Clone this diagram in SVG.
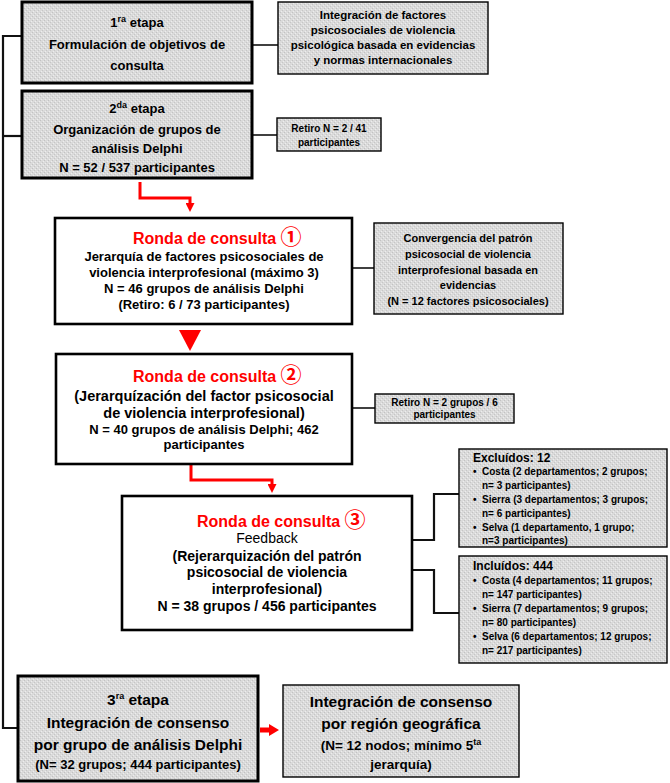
<svg xmlns="http://www.w3.org/2000/svg" width="670" height="783" viewBox="0 0 670 783">
<defs>
<pattern id="tex" width="4" height="4" patternUnits="userSpaceOnUse">
<rect width="4" height="4" fill="#dadada"/>
<rect x="0" y="0" width="1" height="1" fill="#c2c2c2"/>
<rect x="2" y="2" width="1" height="1" fill="#c6c6c6"/>
<rect x="1" y="3" width="1" height="1" fill="#ededed"/>
<rect x="3" y="1" width="1" height="1" fill="#ededed"/>
</pattern>
<marker id="ah" viewBox="0 0 10 10" refX="0" refY="5" markerUnits="userSpaceOnUse" markerWidth="10" markerHeight="9" orient="auto">
<path d="M0,0 L10,5 L0,10 z" fill="#ff0000"/>
</marker>
<style>
text{font-family:"Liberation Sans",Arial,sans-serif;font-weight:bold;fill:#000;text-anchor:middle}
.stage{fill:url(#tex);stroke:#000;stroke-width:3}
.side{fill:url(#tex);stroke:#000;stroke-width:1.4}
.ronda{fill:#fff;stroke:#000;stroke-width:2.6}
.t13{font-size:13px}
.t14{font-size:14px}
.t145{font-size:14.5px}
.t155{font-size:15.5px}
.t135{font-size:13.5px}
.s115{font-size:11.5px}
.s11{font-size:11px}
.s10{font-size:10px}
.s12{font-size:12px}
.left{text-anchor:start}
.red{fill:#ff0000;font-size:16px;text-anchor:start}
.circ{font-family:"Noto Sans CJK JP","DejaVu Sans",sans-serif;font-size:21px;font-weight:bold}
.reg{font-weight:normal}
.sup{font-size:9px}
.ln{fill:none;stroke:#000;stroke-width:1.5}
.lnk{fill:none;stroke:#111;stroke-width:2.2}
.rl{fill:none;stroke:#ff0000;stroke-width:3}
</style>
</defs>

<g id="connectors">
<path class="lnk" d="M22,36 H3 V728 H18"/>
<path class="lnk" d="M3,136 H22"/>
<path class="ln" d="M252,45 H278"/>
<path class="ln" d="M252,135 H277"/>
<path class="ln" d="M352,268 H374"/>
<path class="ln" d="M352,408 H375"/>
<path class="lnk" d="M412,540 H434 V494 H459"/>
<path class="lnk" d="M412,570 H434 V613 H459"/>
<path class="rl" d="M140,182 V198 H190 V203" marker-end="url(#ah)"/>
<polygon points="179,330 201,330 190,351" fill="#ff0000"/>
<path class="rl" d="M191,465 V480 H272 V484" marker-end="url(#ah)"/>
<polygon points="260,727.5 269,727.5 269,724 279,730 269,736 269,732.5 260,732.5" fill="#ff0000"/>
</g>

<g id="etapa1">
<rect class="stage" x="22" y="2" width="230" height="81"/>
<text class="t13" x="137" y="27">1<tspan class="sup" dy="-5">ra</tspan><tspan dy="5"> etapa</tspan></text>
<text class="t13" x="137" y="49">Formulación de objetivos de</text>
<text class="t13" x="137" y="70">consulta</text>
</g>

<g id="integracion-factores">
<rect class="side" x="278" y="2" width="210" height="72"/>
<text class="s115" x="383" y="19">Integración de factores</text>
<text class="s115" x="383" y="34">psicosociales de violencia</text>
<text class="s115" x="383" y="49">psicológica basada en evidencias</text>
<text class="s115" x="383" y="64">y normas internacionales</text>
</g>

<g id="etapa2">
<rect class="stage" x="22" y="91" width="230" height="87"/>
<text class="t13" x="137" y="113">2<tspan class="sup" dy="-5">da</tspan><tspan dy="5"> etapa</tspan></text>
<text class="t13" x="137" y="134">Organización de grupos de</text>
<text class="t13" x="137" y="153">análisis Delphi</text>
<text class="t13" x="137" y="172">N = 52 / 537 participantes</text>
</g>

<g id="retiro1">
<rect class="side" x="277" y="118" width="104" height="33"/>
<text class="s10" x="329" y="132">Retiro N = 2 / 41</text>
<text class="s10" x="329" y="146">participantes</text>
</g>

<g id="ronda1">
<rect class="ronda" x="55" y="218" width="297" height="106"/>
<text class="red" x="133" y="244">Ronda de consulta <tspan class="circ">①</tspan></text>
<text class="t13" x="204" y="261">Jerarquía de factores psicosociales de</text>
<text class="t13" x="204" y="277">violencia interprofesional (máximo 3)</text>
<text class="t13" x="204" y="293">N = 46 grupos de análisis Delphi</text>
<text class="t13" x="204" y="309">(Retiro: 6 / 73 participantes)</text>
</g>

<g id="convergencia">
<rect class="side" x="374" y="223" width="189" height="91"/>
<text class="s11" x="468" y="242">Convergencia del patrón</text>
<text class="s11" x="468" y="258">psicosocial de violencia</text>
<text class="s11" x="468" y="274">interprofesional basada en</text>
<text class="s11" x="468" y="289">evidencias</text>
<text class="s11" x="468" y="305">(N = 12 factores psicosociales)</text>
</g>

<g id="ronda2">
<rect class="ronda" x="56" y="354" width="296" height="110"/>
<text class="red" x="133" y="382">Ronda de consulta <tspan class="circ">②</tspan></text>
<text class="t145" x="204" y="401">(Jerarquízación del factor psicosocial</text>
<text class="t145" x="204" y="418">de violencia interprofesional)</text>
<text class="t13" x="204" y="434">N = 40 grupos de análisis Delphi; 462</text>
<text class="t13" x="204" y="449">participantes</text>
</g>

<g id="retiro2">
<rect class="side" x="375" y="394" width="139" height="29"/>
<text class="s10" x="444.5" y="406">Retiro N = 2 grupos / 6</text>
<text class="s10" x="444.5" y="418">participantes</text>
</g>

<g id="ronda3">
<rect class="ronda" x="122" y="496" width="290" height="134"/>
<text class="red" x="197" y="527">Ronda de consulta <tspan class="circ">③</tspan></text>
<text class="t14 reg" x="267" y="543">Feedback</text>
<text class="t14" x="267" y="561">(Rejerarquización del patrón</text>
<text class="t14" x="267" y="577">psicosocial de violencia</text>
<text class="t14" x="267" y="594">interprofesional)</text>
<text class="t14" x="267" y="611">N = 38 grupos / 456 participantes</text>
</g>

<g id="excluidos">
<rect class="side" x="459" y="449" width="208" height="98"/>
<text class="s12 left" x="473" y="462">Excluídos: 12</text>
<text class="s10 left" x="473" y="475">•</text>
<text class="s10 left" x="482" y="475">Costa (2 departamentos; 2 grupos;</text>
<text class="s10 left" x="482" y="489">n= 3 participantes)</text>
<text class="s10 left" x="473" y="503">•</text>
<text class="s10 left" x="482" y="503">Sierra (3 departamentos; 3 grupos;</text>
<text class="s10 left" x="482" y="517">n= 6 participantes)</text>
<text class="s10 left" x="473" y="531">•</text>
<text class="s10 left" x="482" y="531">Selva (1 departamento, 1 grupo;</text>
<text class="s10 left" x="482" y="544">n=3 participantes)</text>
</g>

<g id="incluidos">
<rect class="side" x="459" y="556" width="208" height="107"/>
<text class="s12 left" x="473" y="570">Incluídos: 444</text>
<text class="s10 left" x="473" y="584">•</text>
<text class="s10 left" x="482" y="584">Costa (4 departamentos; 11 grupos;</text>
<text class="s10 left" x="482" y="598">n= 147 participantes)</text>
<text class="s10 left" x="473" y="612">•</text>
<text class="s10 left" x="482" y="612">Sierra (7 departamentos; 9 grupos;</text>
<text class="s10 left" x="482" y="626">n= 80 participantes)</text>
<text class="s10 left" x="473" y="640">•</text>
<text class="s10 left" x="482" y="640">Selva (6 departamentos; 12 grupos;</text>
<text class="s10 left" x="482" y="654">n= 217 participantes)</text>
</g>

<g id="etapa3">
<rect class="stage" x="18" y="676" width="240" height="105"/>
<text class="t155" x="138" y="705">3<tspan class="sup" dy="-6">ra</tspan><tspan dy="6"> etapa</tspan></text>
<text class="t155" x="138" y="728">Integración de consenso</text>
<text class="t155" x="138" y="750">por grupo de análisis Delphi</text>
<text class="t13" x="138" y="769">(N= 32 grupos; 444 participantes)</text>
</g>

<g id="consenso-region">
<rect class="side" x="283" y="685" width="236" height="92"/>
<text class="t155" x="401" y="707">Integración de consenso</text>
<text class="t155" x="401" y="729">por región geográfica</text>
<text class="t135" x="401" y="750">(N= 12 nodos; mínimo 5<tspan class="sup" dy="-5">ta</tspan></text>
<text class="t135" x="401" y="769">jerarquía)</text>
</g>
</svg>
